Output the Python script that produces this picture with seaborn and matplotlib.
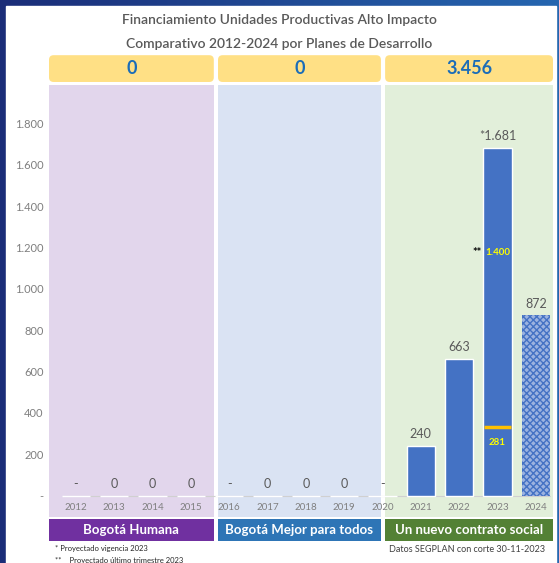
import numpy as np
import matplotlib
matplotlib.use("Agg")
import matplotlib.pyplot as plt
import matplotlib.transforms as mtransforms
from matplotlib.patches import Rectangle, FancyBboxPatch
import seaborn as sns

# datos
anios = ["2012", "2013", "2014", "2015", "2016", "2017", "2018",
         "2019", "2020", "2021", "2022", "2023", "2024"]
valores = [0, 0, 0, 0, 0, 0, 0, 0, 0, 240, 663, 1681, 872]
etiquetas = ["-", "0", "0", "0", "-", "0", "0", "0", "-",
             "240", "663", "*1.681", "872"]
planes = ["Bogotá Humana", "Bogotá Mejor para todos", "Un nuevo contrato social"]
totales_plan = ["0", "0", "3.456"]
proyectado_trimestre = 1400   # ** valor en amarillo dentro de la barra 2023
parcial_2023 = 281

sns.set_style("white")
plt.rcParams["font.family"] = ["Lato", "DejaVu Sans"]

fig = plt.figure(figsize=(5.59, 5.63), dpi=100)

# fondo azul con degradado y panel blanco
bg = fig.add_axes([0, 0, 1, 1], zorder=-10)
grad = np.linspace(0, 1, 256).reshape(1, -1)
bg.imshow(grad, aspect="auto", cmap=matplotlib.colors.LinearSegmentedColormap.from_list(
    "azul", ["#1B2D78", "#2566B0"]), extent=[0, 1, 0, 1])
bg.add_patch(Rectangle((6 / 559, 0), 550 / 559, 1 - 6 / 563, color="white"))
bg.set_xlim(0, 1)
bg.set_ylim(0, 1)
bg.axis("off")

ax = fig.add_axes([49 / 559, 1 - 517 / 563, 504 / 559, 432 / 563])
ax.set_facecolor("none")

# paneles de fondo por plan
limites = [(-0.70, 3.60), (3.71, 7.96), (8.07, 12.45)]
fondos = ["#E2D6EC", "#DAE3F3", "#E2EFDA"]
barras_plan = ["#7030A0", "#2E75B6", "#538135"]
for (x0, x1), c in zip(limites, fondos):
    ax.axvspan(x0, x1, color=c, zorder=0, lw=0)

trans = mtransforms.blended_transform_factory(ax.transData, ax.transAxes)
asp = 38.3 / 432
for (x0, x1), c, nombre, tot in zip(limites, barras_plan, planes, totales_plan):
    caja = FancyBboxPatch((x0, 1.007), x1 - x0, 0.062, transform=trans,
                          boxstyle="round,pad=0,rounding_size=0.12",
                          mutation_aspect=asp, color="#FFE085", clip_on=False, lw=0)
    ax.add_patch(caja)
    ax.text((x0 + x1) / 2, 1.038, tot, transform=trans, ha="center", va="center",
            fontsize=13, fontweight="bold", color="#1B6DB8")
    ax.add_patch(Rectangle((x0, -0.0556), x1 - x0, 0.051, transform=trans,
                           color=c, clip_on=False, lw=0))
    ax.text((x0 + x1) / 2, -0.031, nombre, transform=trans, ha="center", va="center",
            fontsize=9.5, fontweight="bold", color="white")

ax.axhline(0, xmin=0.03, xmax=0.995, color="#D0D0D0", lw=0.8, zorder=1)

sns.barplot(x=anios, y=valores, color="#4472C4", saturation=1, width=0.74,
            ax=ax, zorder=2)

# barra 2024 con trama
p24 = ax.patches[-1]
p24.set_facecolor("#9CB3E0")
p24.set_hatch("xxxxx")
p24.set_edgecolor("#4472C4")
p24.set_linewidth(0)

for i, (v, t) in enumerate(zip(valores, etiquetas)):
    ax.annotate(t, (i, v), xytext=(0, 4), textcoords="offset points",
                ha="center", va="bottom", fontsize=9, color="#595959")

# detalle 2023
i23 = anios.index("2023")
ax.hlines(parcial_2023 + 50, i23 - 0.36, i23 + 0.36, color="#FFC000", lw=2.5, zorder=3)
ax.text(i23, parcial_2023 - 25, str(parcial_2023), ha="center", va="center",
        fontsize=7, fontweight="bold", color="#FFFF00", zorder=4)
ax.text(i23, proyectado_trimestre * 0.84, f"{proyectado_trimestre:,}".replace(",", "."),
        ha="center", va="center", fontsize=7, fontweight="bold", color="#FFFF00", zorder=4)
ax.text(i23 - 0.53, proyectado_trimestre * 0.84, "**", ha="center", va="center",
        fontsize=8, fontweight="bold", color="black", zorder=4)

ax.set_xlim(-0.70, 12.45)
ax.set_ylim(-103, 1985)
yt = np.arange(0, 1801, 200)
ax.set_yticks(yt)
ax.set_yticklabels(["-"] + [f"{v:,}".replace(",", ".") for v in yt[1:]])
ax.tick_params(axis="y", length=0, pad=4, labelsize=8, labelcolor="#7F7F7F")
ax.tick_params(axis="x", length=0, pad=-10, labelsize=7, labelcolor="#7F7F7F")
ax.set_xlabel("")
ax.set_ylabel("")
sns.despine(ax=ax, left=True, bottom=True)

fig.text(0.5, 1 - 20 / 563, "Financiamiento Unidades Productivas Alto Impacto",
         ha="center", va="center", fontsize=10, fontweight="semibold", color="#595959")
fig.text(0.5, 1 - 44 / 563, "Comparativo 2012-2024 por Planes de Desarrollo",
         ha="center", va="center", fontsize=10, fontweight="semibold", color="#595959")

fig.text(55 / 559, 1 - 549 / 563, "* Proyectado vigencia 2023", ha="left", va="center",
         fontsize=5.5, color="#262626")
fig.text(55 / 559, 1 - 560 / 563, "**    Proyectado último trimestre 2023", ha="left",
         va="center", fontsize=5.5, color="#262626")
fig.text(545 / 559, 1 - 550 / 563, "Datos SEGPLAN con corte 30-11-2023", ha="right",
         va="center", fontsize=6.5, color="#404040")

fig.savefig("out.png", dpi=100)
